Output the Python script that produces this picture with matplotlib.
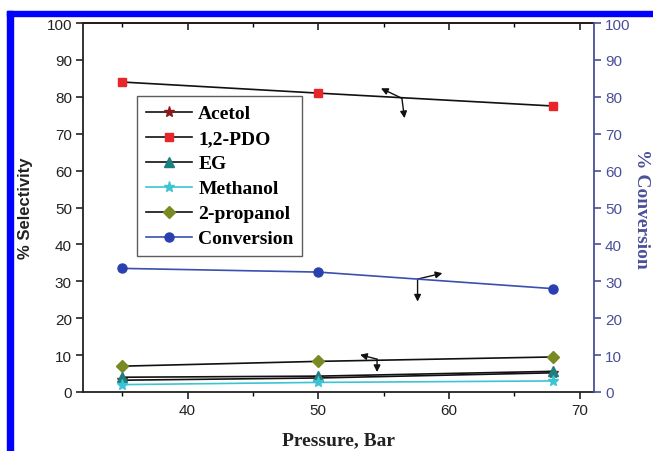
import matplotlib
matplotlib.use("Agg")
import matplotlib.pyplot as plt
from matplotlib.patches import Rectangle
from matplotlib.lines import Line2D
from matplotlib.ticker import MultipleLocator

# ── Data: selectivity / conversion vs pressure ───────────────────────────────
pressure = [35, 50, 68]
acetol = [3.2, 3.8, 5.2]
pdo = [84.0, 81.0, 77.5]
eg = [4.0, 4.3, 5.6]
methanol = [2.0, 2.6, 3.0]
propanol = [7.0, 8.3, 9.5]
conversion = [33.5, 32.5, 28.0]

SANS = "Liberation Sans"
SERIF = "Liberation Serif"
BLUE_AX = "#4a4f98"

fig = plt.figure(figsize=(6.53, 4.52), dpi=100)
ax = fig.add_axes([83 / 653, 59 / 452, 511 / 653, 369 / 452])

# frame around the figure panel
fig.patches.append(Rectangle((7 / 653, 1 - 16.7 / 452), 1, 5 / 452,
                             transform=fig.transFigure, color="#0000ff", zorder=0))
fig.patches.append(Rectangle((7 / 653, 0), 5.8 / 653, 1 - 11.7 / 452,
                             transform=fig.transFigure, color="#0000ff", zorder=0))

lw = 1.2
ax.plot(pressure, pdo, color="#111111", lw=lw, marker="s", ms=6,
        mfc="#e8262a", mec="#e8262a", zorder=3)
ax.plot(pressure, propanol, color="#111111", lw=lw, marker="D", ms=6,
        mfc="#7a8a22", mec="#7a8a22", zorder=3)
ax.plot(pressure, acetol, color="#111111", lw=lw, marker="*", ms=8,
        mfc="#8b1a1a", mec="#8b1a1a", zorder=3)
ax.plot(pressure, eg, color="#111111", lw=lw, marker="^", ms=7,
        mfc="#1d7f80", mec="#1d7f80", zorder=3)
ax.plot(pressure, methanol, color="#3cc4d4", lw=lw, marker="*", ms=8,
        mfc="#3cc4d4", mec="#3cc4d4", zorder=3)

ax.set_xlim(32, 71.1)
ax.set_ylim(0, 100)
ax.xaxis.set_major_locator(MultipleLocator(10))
ax.xaxis.set_minor_locator(MultipleLocator(5))
ax.yaxis.set_major_locator(MultipleLocator(10))
ax.tick_params(axis="both", which="major", direction="out", length=5,
               width=1.2, labelsize=11, colors="#222222", pad=3)
ax.tick_params(axis="x", which="minor", direction="out", length=3, width=1)
for lab in ax.get_xticklabels() + ax.get_yticklabels():
    lab.set_fontfamily(SANS)
ax.spines["right"].set_visible(False)
for s in ["left", "bottom", "top"]:
    ax.spines[s].set_linewidth(1.3)
    ax.spines[s].set_color("#222222")

# top spine with inward ticks
top = ax.secondary_xaxis("top")
top.xaxis.set_major_locator(MultipleLocator(10))
top.xaxis.set_minor_locator(MultipleLocator(5))
top.tick_params(which="major", direction="in", length=5, width=1.2,
                labeltop=False, colors="#222222")
top.tick_params(which="minor", direction="in", length=3, width=1)
top.spines["top"].set_linewidth(1.3)

# conversion on the right axis
ax2 = ax.twinx()
ax2.plot(pressure, conversion, color="#3a4fb0", lw=lw, marker="o", ms=6.5,
         mfc="#2a3fb0", mec="#2a3fb0", zorder=3)
ax2.set_ylim(0, 100)
ax2.yaxis.set_major_locator(MultipleLocator(10))
ax2.tick_params(axis="y", direction="out", length=5, width=1.2,
                labelsize=11, colors=BLUE_AX, pad=3)
for lab in ax2.get_yticklabels():
    lab.set_fontfamily(SANS)
ax2.spines["right"].set_color(BLUE_AX)
ax2.spines["right"].set_linewidth(1.3)
for s in ["left", "top", "bottom"]:
    ax2.spines[s].set_visible(False)

ax.set_xlabel("Pressure, Bar", fontfamily=SERIF, fontweight="bold",
              fontsize=14, labelpad=10, color="#222222")
ax.set_ylabel("% Selectivity", fontfamily=SANS, fontweight="bold",
              fontsize=12, color="#222222")
ax.yaxis.set_label_coords(-0.097, 0.5)
ax2.set_ylabel("% Conversion", fontfamily=SERIF, fontweight="bold",
               fontsize=14, color=BLUE_AX, rotation=270, labelpad=14)

# axis-pointer arrows
def pointer(junction, side_end, down_end):
    ap = dict(arrowstyle="-|>,head_length=0.4,head_width=0.2", color="#111111",
              lw=1.0, shrinkA=0, shrinkB=0)
    ax.annotate("", xy=side_end, xytext=junction, arrowprops=ap, zorder=4)
    ax.annotate("", xy=down_end, xytext=junction, arrowprops=ap, zorder=4)

pointer((56.4, 79.6), (54.8, 82.3), (56.6, 74.2))
pointer((57.6, 30.6), (59.5, 32.2), (57.6, 24.5))
pointer((54.5, 8.9), (53.2, 10.1), (54.5, 5.4))

# legend
handles = [
    Line2D([], [], color="#111111", lw=lw, marker="*", ms=8, mfc="#8b1a1a", mec="#8b1a1a"),
    Line2D([], [], color="#111111", lw=lw, marker="s", ms=6, mfc="#e8262a", mec="#e8262a"),
    Line2D([], [], color="#111111", lw=lw, marker="^", ms=7, mfc="#1d7f80", mec="#1d7f80"),
    Line2D([], [], color="#3cc4d4", lw=lw, marker="*", ms=8, mfc="#3cc4d4", mec="#3cc4d4"),
    Line2D([], [], color="#111111", lw=lw, marker="D", ms=6, mfc="#7a8a22", mec="#7a8a22"),
    Line2D([], [], color="#3a4fb0", lw=lw, marker="o", ms=6.5, mfc="#2a3fb0", mec="#2a3fb0"),
]
labels = ["Acetol", "1,2-PDO", "EG", "Methanol", "2-propanol", "Conversion"]
leg = ax2.legend(handles, labels, loc="upper left",
                 bbox_to_anchor=((137 - 83) / 511, (393 - 97) / 369),
                 prop={"family": SERIF, "weight": "bold", "size": 14},
                 frameon=True, fancybox=False, edgecolor="#333333",
                 handlelength=2.4, handletextpad=0.3, labelspacing=0.38,
                 borderpad=0.45, borderaxespad=0)
leg.get_frame().set_linewidth(1.0)

fig.savefig("out.png", dpi=100)
